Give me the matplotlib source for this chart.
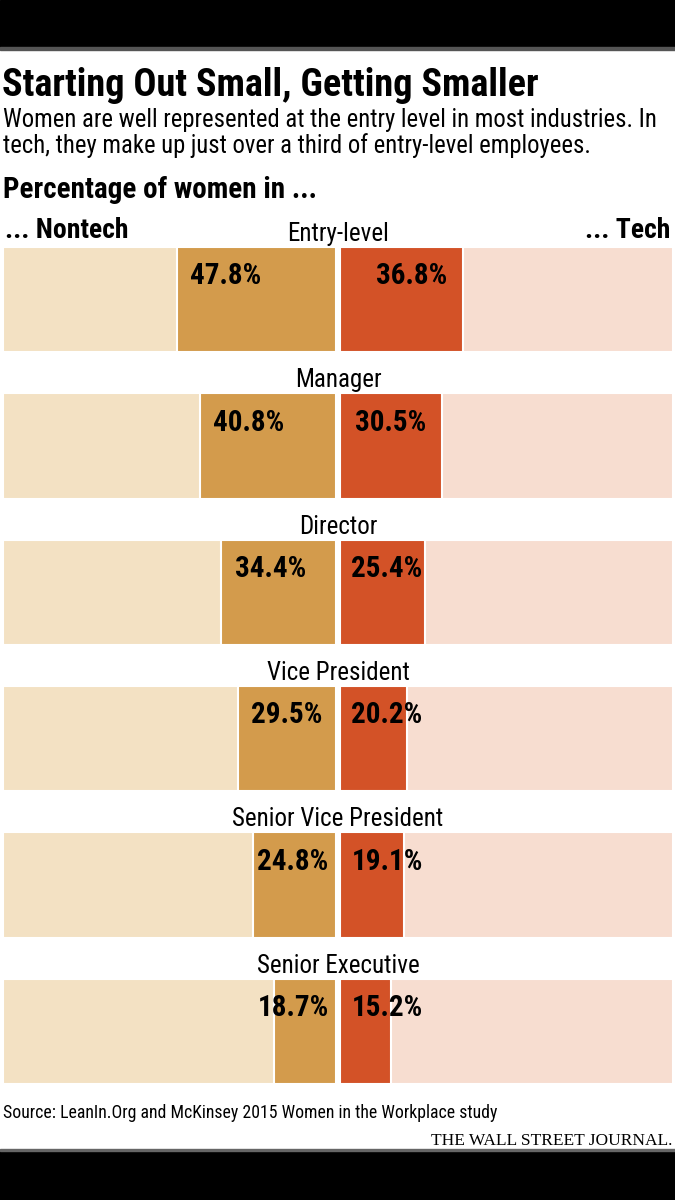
import matplotlib
matplotlib.use('Agg')
import matplotlib.pyplot as plt
from matplotlib import font_manager
from matplotlib.patches import Rectangle
import numpy as np

# Data
levels = ['Entry-level', 'Manager', 'Director', 'Vice President',
          'Senior Vice President', 'Senior Executive']
nontech = [47.8, 40.8, 34.4, 29.5, 24.8, 18.7]
tech = [36.8, 30.5, 25.4, 20.2, 19.1, 15.2]

# Colours
bg_left = '#F3E1C3'
bg_right = '#F7DDD0'
c_nontech = '#D39B4C'
c_tech = '#D35227'

# pick a narrow font if one is installed
avail = {f.name for f in font_manager.fontManager.ttflist}
narrow = 'DejaVu Sans'
for cand in ['Liberation Sans Narrow', 'Roboto Condensed', 'Noto Sans Condensed',
             'Open Sans Condensed', 'DejaVu Sans Condensed']:
    if cand in avail:
        narrow = cand
        break
serif = 'Liberation Serif' if 'Liberation Serif' in avail else 'DejaVu Serif'

W, H = 675, 1200
fig = plt.figure(figsize=(W / 100, H / 100), dpi=100)
fig.patch.set_facecolor('white')


def fy(px):
    return 1 - px / H


def fx(px):
    return px / W


# black bands top and bottom
fig.patches.append(Rectangle((0, fy(47)), 1, 47 / H, transform=fig.transFigure,
                             color='black', zorder=0))
fig.patches.append(Rectangle((0, fy(50)), 1, 3 / H, transform=fig.transFigure,
                             color='#555555', zorder=0))
fig.patches.append(Rectangle((0, 0), 1, 49 / H, transform=fig.transFigure,
                             color='black', zorder=0))
fig.patches.append(Rectangle((0, 49 / H), 1, 2 / H, transform=fig.transFigure,
                             color='#666666', zorder=0))

# header texts
fig.text(fx(2), fy(96), 'Starting Out Small, Getting Smaller', family=narrow,
         fontweight='bold', fontsize=27.5, va='baseline', ha='left')
fig.text(fx(3), fy(127), 'Women are well represented at the entry level in most industries. In',
         family=narrow, fontsize=17.7, va='baseline', ha='left')
fig.text(fx(3), fy(153), 'tech, they make up just over a third of entry-level employees.',
         family=narrow, fontsize=17.7, va='baseline', ha='left')
fig.text(fx(3), fy(198), 'Percentage of women in ...', family=narrow,
         fontweight='bold', fontsize=21, va='baseline', ha='left')
fig.text(fx(5), fy(238), '... Nontech', family=narrow,
         fontweight='bold', fontsize=20, va='baseline', ha='left')
fig.text(fx(670), fy(238), '... Tech', family=narrow,
         fontweight='bold', fontsize=20, va='baseline', ha='right')

# chart axes: 0 at centre, 100% = half width
ax = fig.add_axes([fx(3), fy(1084), 670 / W, 837 / H])
ax.set_xlim(-100.6, 100.6)
ax.set_ylim(5.36, -0.36)
ax.axis('off')

rows = np.arange(len(levels))
g = 0.6
hgt = 0.72
ax.barh(rows, -100, left=-g, height=hgt, color=bg_left, edgecolor='white', linewidth=1.5)
ax.barh(rows, 100, left=g, height=hgt, color=bg_right, edgecolor='white', linewidth=1.5)
ax.barh(rows, -np.array(nontech), left=-g, height=hgt, color=c_nontech,
        edgecolor='white', linewidth=1.5)
ax.barh(rows, tech, left=g, height=hgt, color=c_tech, edgecolor='white', linewidth=1.5)

for i, lev in enumerate(levels):
    ax.text(0, i - hgt / 2 - 0.04, lev, family=narrow, fontsize=18,
            ha='center', va='baseline')
    ytxt = i - hgt / 2 + 0.255
    v = nontech[i]
    if v < 27:
        ax.text(-2.8, ytxt, f'{v}%', family=narrow, fontweight='bold', fontsize=21,
                ha='right', va='baseline')
    else:
        ax.text(-g - v + 4, ytxt, f'{v}%', family=narrow, fontweight='bold', fontsize=21,
                ha='left', va='baseline')
    t = tech[i]
    ax.text(max(4, t - 25.5), ytxt, f'{t}%', family=narrow, fontweight='bold',
            fontsize=21, ha='left', va='baseline')

fig.text(fx(3), fy(1118), 'Source: LeanIn.Org and McKinsey 2015 Women in the Workplace study',
         family=narrow, fontsize=12.8, va='baseline', ha='left')
fig.text(fx(672), fy(1145), 'THE WALL STREET JOURNAL.', family=serif,
         fontsize=12.5, va='baseline', ha='right')

fig.savefig('out.png', dpi=100)
